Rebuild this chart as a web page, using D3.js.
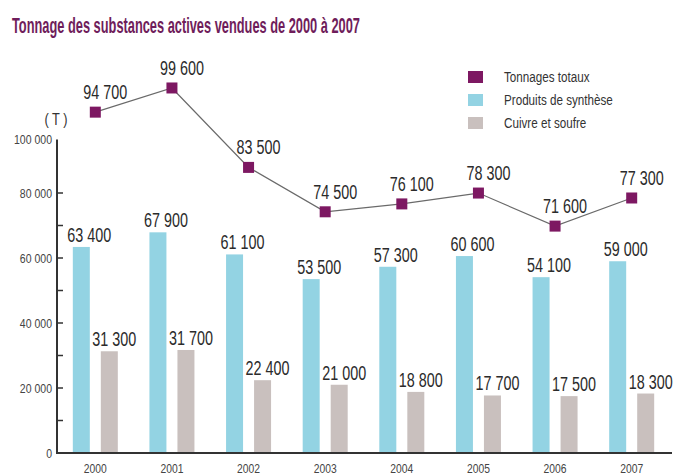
<!DOCTYPE html>
<html>
<head>
<meta charset="utf-8">
<script src="https://cdn.jsdelivr.net/npm/d3@7"></script>
<style>
  body { margin: 0; background: #fff; }
  svg text { font-family: "Liberation Sans", Arial, sans-serif; }
</style>
</head>
<body>
<div id="chart"></div>
<script>
// Data
const years = ["2000", "2001", "2002", "2003", "2004", "2005", "2006", "2007"];
const totals = [94700, 99600, 83500, 74500, 76100, 78300, 71600, 77300];
const synthese = [63400, 67900, 61100, 53500, 57300, 60600, 54100, 59000];
const cuivre = [31300, 31700, 22400, 21000, 18800, 17700, 17500, 18300];
const yTicks = [0, 20000, 40000, 60000, 80000, 100000];
const legendItems = ["Tonnages totaux", "Produits de synthèse", "Cuivre et soufre"];

const colors = { total: "#7d1862", synthese: "#93d3e3", cuivre: "#c9c0be" };
const fmt = (v) => d3.format(",")(v).replace(",", " ");

const width = 674, height = 475;
const svg = d3.select("#chart").append("svg")
  .attr("width", width).attr("height", height);

// The original uses a very condensed face: squeeze a normal one horizontally.
// Squeeze factor = wanted width of a sample string / its natural width.
function squeeze(sample, size, wanted, weight = "normal") {
  const t = svg.append("text").attr("font-size", size)
    .attr("font-weight", weight).text(sample);
  const w = t.node().getComputedTextLength();
  t.remove();
  return wanted / w;
}
const sxValue = squeeze("94 700", 21, 44);
const sxTick = squeeze("100 000", 13, 38);
const sxYear = squeeze("2000", 12, 23);
const sxLegend = squeeze("Produits de synthèse", 15, 109);
const sxTitle = squeeze("Tonnage des substances actives vendues de 2000 à 2007", 22, 348, "bold");

// Scales
const x = d3.scaleBand().domain(years).range([57, 670]);
const xInner = d3.scaleBand().domain(["synthese", "cuivre"])
  .range([-22.5, 22.5]).paddingInner(0.393);
const y = d3.scaleLinear().domain([0, 100000]).range([453, 128]);
// The total line is drawn on its own (zoomed) scale in the original
const yTotal = d3.scaleLinear().domain([70000, 100000]).range([234, 86]);
const axisTop = 96500; // vertical axis stops a bit short of 100 000

const cx = (d) => x(d) + x.bandwidth() / 2;

function label(g, tx, ty, text, size, sx, anchor = "middle") {
  return g.append("text")
    .attr("transform", `translate(${tx},${ty}) scale(${sx},1)`)
    .attr("text-anchor", anchor)
    .attr("font-size", size)
    .attr("fill", "#2b2b2b")
    .text(text);
}

// Title
label(svg, 12, 33, "Tonnage des substances actives vendues de 2000 à 2007", 22, sxTitle, "start")
  .attr("font-weight", "bold")
  .attr("fill", "#6f1d5b");

// Bars
const gBars = svg.append("g");
const barData = years.flatMap((yr, i) => [
  { year: yr, key: "synthese", value: synthese[i] },
  { year: yr, key: "cuivre", value: cuivre[i] },
]);
gBars.selectAll("rect")
  .data(barData)
  .join("rect")
  .attr("x", (d) => cx(d.year) + xInner(d.key))
  .attr("width", xInner.bandwidth())
  .attr("y", (d) => y(d.value))
  .attr("height", (d) => y(0) - y(d.value))
  .attr("fill", (d) => colors[d.key]);

const gBarLabels = svg.append("g");
barData.forEach((d) => {
  const shift = d.key === "synthese" ? 8 : 5;
  label(gBarLabels, cx(d.year) + xInner(d.key) + xInner.bandwidth() / 2 + shift,
    y(d.value) - 5, fmt(d.value), 21, sxValue);
});

// Axes
const gAxis = svg.append("g");
gAxis.append("line")
  .attr("x1", 57).attr("x2", 57)
  .attr("y1", y(axisTop)).attr("y2", y(0) + 1)
  .attr("stroke", "#333").attr("stroke-width", 2);
gAxis.append("line")
  .attr("x1", 56).attr("x2", 672)
  .attr("y1", y(0)).attr("y2", y(0))
  .attr("stroke", "#333").attr("stroke-width", 2);
gAxis.selectAll(".tick")
  .data(d3.range(10000, 90000, 10000))
  .join("line")
  .attr("class", "tick")
  .attr("x1", 57).attr("x2", 63)
  .attr("y1", (d) => y(d)).attr("y2", (d) => y(d))
  .attr("stroke", "#333").attr("stroke-width", 1.5);
yTicks.forEach((t) => {
  const ty = t === 100000 ? y(axisTop) : y(t);
  label(gAxis, 52, ty + 4.5, fmt(t), 13, sxTick, "end").attr("fill", "#444");
});
years.forEach((yr) => {
  label(gAxis, cx(yr), 473, yr, 12, sxYear).attr("fill", "#444");
});
label(svg, 56, 125, "( T )", 16, 0.8).attr("fill", "#333");

// Total line
const gLine = svg.append("g");
gLine.append("path")
  .datum(totals)
  .attr("fill", "none")
  .attr("stroke", "#6a6a6a")
  .attr("stroke-width", 1.2)
  .attr("d", d3.line().x((d, i) => cx(years[i])).y((d) => yTotal(d)));
gLine.selectAll("rect")
  .data(totals)
  .join("rect")
  .attr("x", (d, i) => cx(years[i]) - 5.5)
  .attr("y", (d) => yTotal(d) - 5.5)
  .attr("width", 11).attr("height", 11)
  .attr("fill", colors.total);
totals.forEach((d, i) => {
  label(gLine, cx(years[i]) + 10, yTotal(d) - 13, fmt(d), 21, sxValue);
});

// Legend
const legendColors = [colors.total, colors.synthese, colors.cuivre];
const gLegend = svg.append("g").attr("transform", "translate(468,77)");
legendItems.forEach((t, i) => {
  gLegend.append("rect")
    .attr("x", 0).attr("y", i * 23 - 6)
    .attr("width", 15).attr("height", 12)
    .attr("fill", legendColors[i]);
  label(gLegend, 36, i * 23 + 5, t, 15, sxLegend, "start").attr("fill", "#333");
});
</script>
</body>
</html>
